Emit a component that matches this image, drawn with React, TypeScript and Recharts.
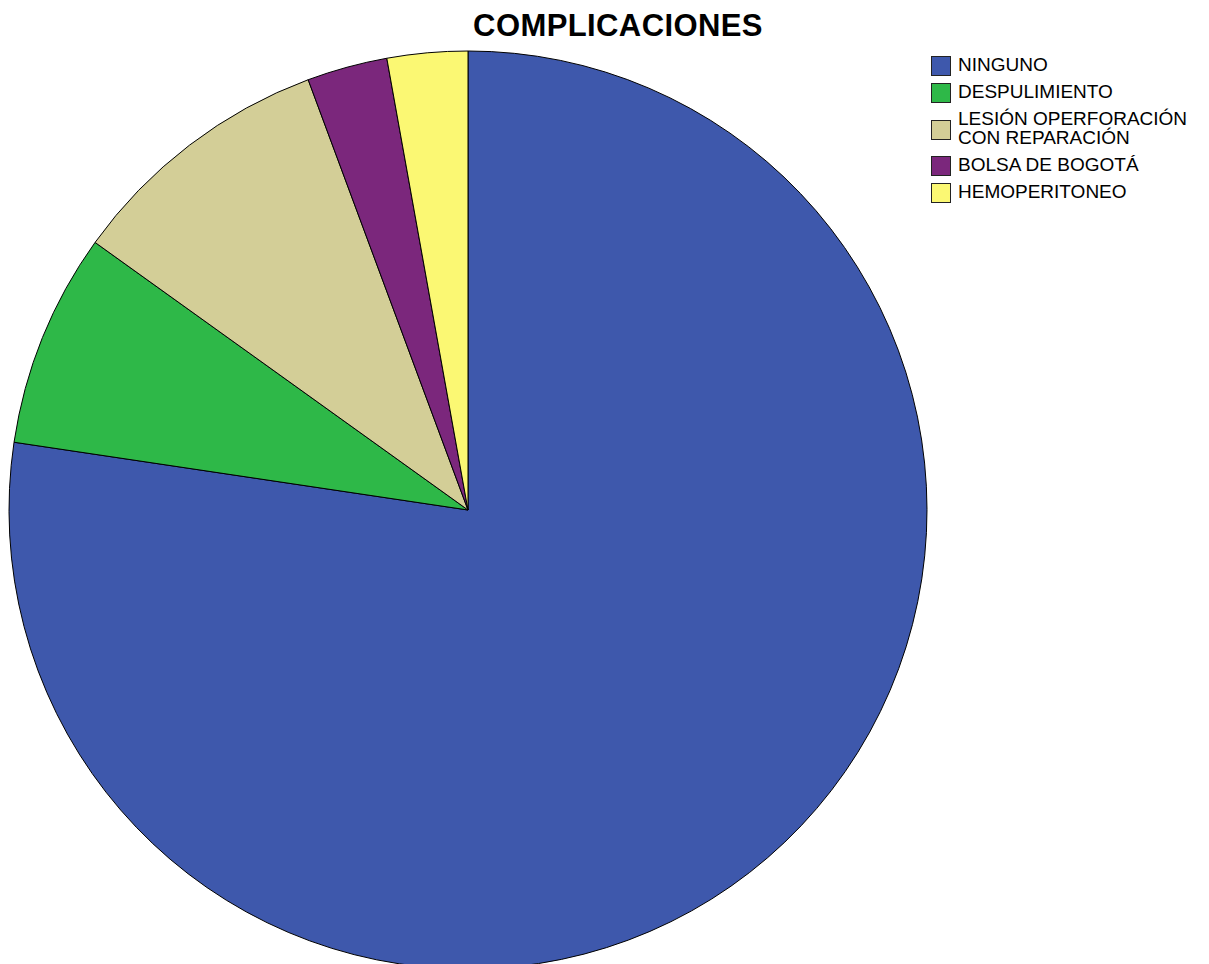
import React from "react";
import { PieChart, Pie, Cell, Legend } from "recharts";

const categories = [
  "NINGUNO",
  "DESPULIMIENTO",
  "LESIÓN OPERFORACIÓN\nCON REPARACIÓN",
  "BOLSA DE BOGOTÁ",
  "HEMOPERITONEO",
];
const counts = [82, 8, 10, 3, 3];
const colors = ["#3E58AC", "#2EB848", "#D3CE97", "#7B277C", "#FBF873"];

const data = categories.map((name, i) => ({ name, value: counts[i] }));

const font = "'Liberation Sans', Arial, sans-serif";

const LegendBox = () => {
  let y = 0;
  return (
    <div style={{ position: "relative", width: 270, height: 160, fontFamily: font, fontSize: 19, color: "#000" }}>
      {data.map((d, i) => {
        const lines = d.name.split("\n");
        const top = y;
        y += 27 + (lines.length - 1) * 19;
        const boxTop = top + (lines.length - 1) * 9.5;
        return (
          <div key={d.name}>
            <div
              style={{
                position: "absolute",
                left: 0,
                top: boxTop,
                width: 18,
                height: 18,
                background: colors[i],
                border: "1px solid #222",
              }}
            />
            {lines.map((ln, j) => (
              <div
                key={ln}
                style={{
                  position: "absolute",
                  left: 27,
                  top: top - 2 + j * 19,
                  lineHeight: "22px",
                  whiteSpace: "nowrap",
                }}
              >
                {ln}
              </div>
            ))}
          </div>
        );
      })}
    </div>
  );
};

export default function App() {
  return (
    <div style={{ position: "absolute", left: 0, top: 0, width: 1209, height: 964, background: "#fff", overflow: "hidden" }}>
      <div
        style={{
          position: "absolute",
          left: 0,
          width: 1236,
          top: 8,
          textAlign: "center",
          fontFamily: font,
          fontWeight: "bold",
          fontSize: 31,
          letterSpacing: 0.4,
          lineHeight: "36px",
          color: "#000",
        }}
      >
        COMPLICACIONES
      </div>
      <PieChart width={1209} height={964} margin={{ top: 0, right: 0, bottom: 0, left: 0 }}>
        <Pie
          data={data}
          dataKey="value"
          nameKey="name"
          cx={468}
          cy={510}
          outerRadius={459}
          startAngle={90}
          endAngle={-270}
          stroke="#000"
          strokeWidth={1}
          isAnimationActive={false}
        >
          {data.map((d, i) => (
            <Cell key={d.name} fill={colors[i]} />
          ))}
        </Pie>
        <Legend
          content={<LegendBox />}
          wrapperStyle={{ position: "absolute", left: 931, top: 56, width: 270 }}
        />
      </PieChart>
    </div>
  );
}
